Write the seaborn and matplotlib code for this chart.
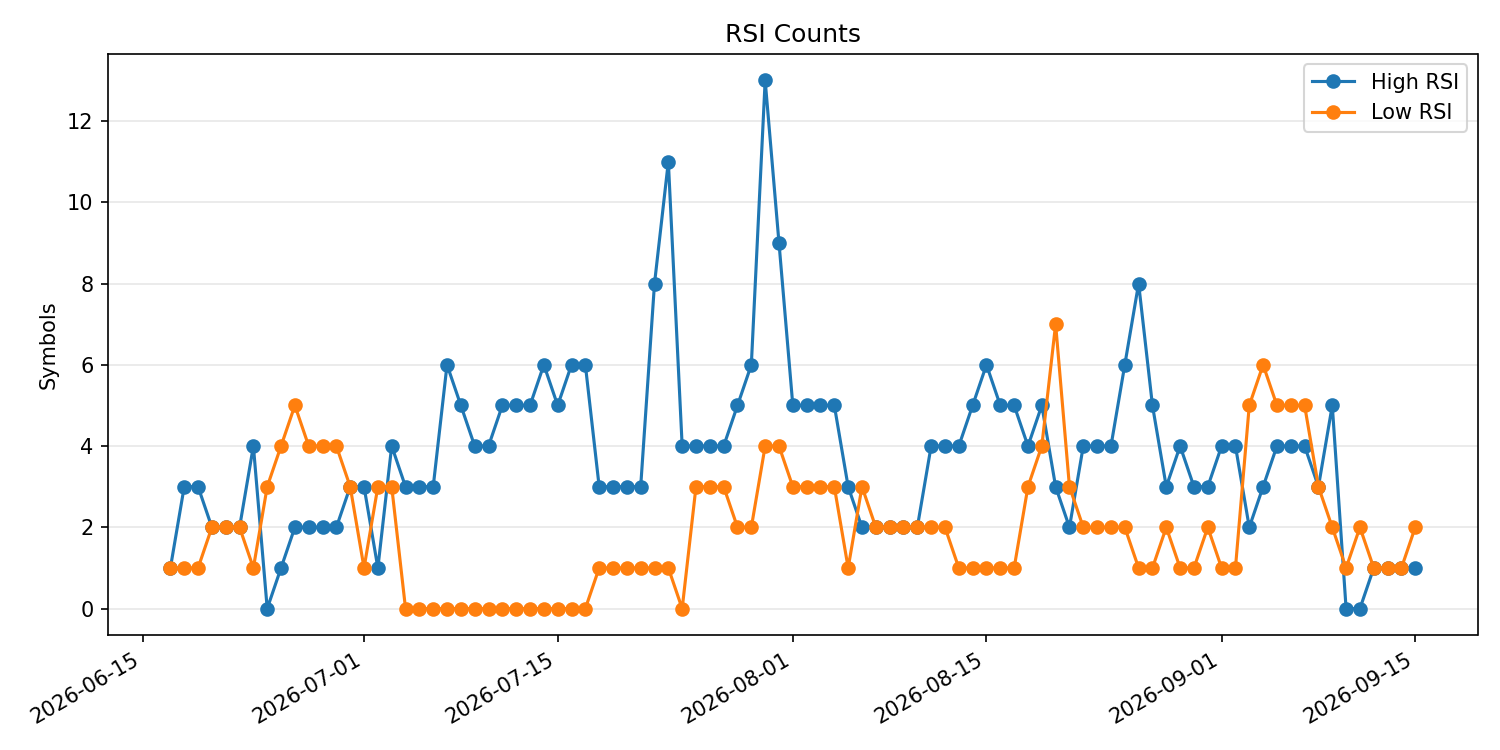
import pandas as pd
import matplotlib
matplotlib.use("Agg")
import matplotlib.pyplot as plt
import seaborn as sns

# daily counts, 2026-06-17 .. 2026-09-15
dates = pd.date_range("2026-06-17", "2026-09-15", freq="D")

high_rsi = [1, 3, 3, 2, 2, 2, 4, 0, 1, 2, 2, 2, 2, 3, 3, 1, 4, 3, 3, 3,
            6, 5, 4, 4, 5, 5, 5, 6, 5, 6, 6, 3, 3, 3, 3, 8, 11, 4, 4, 4,
            4, 5, 6, 13, 9, 5, 5, 5, 5, 3, 2, 2, 2, 2, 2, 4, 4, 4, 5, 6,
            5, 5, 4, 5, 3, 2, 4, 4, 4, 6, 8, 5, 3, 4, 3, 3, 4, 4, 2, 3,
            4, 4, 4, 3, 5, 0, 0, 1, 1, 1, 1]

low_rsi = [1, 1, 1, 2, 2, 2, 1, 3, 4, 5, 4, 4, 4, 3, 1, 3, 3, 0, 0, 0,
           0, 0, 0, 0, 0, 0, 0, 0, 0, 0, 0, 1, 1, 1, 1, 1, 1, 0, 3, 3,
           3, 2, 2, 4, 4, 3, 3, 3, 3, 1, 3, 2, 2, 2, 2, 2, 2, 1, 1, 1,
           1, 1, 3, 4, 7, 3, 2, 2, 2, 2, 1, 1, 2, 1, 1, 2, 1, 1, 5, 6,
           5, 5, 5, 3, 2, 1, 2, 1, 1, 1, 2]

df = pd.DataFrame({"date": dates, "high": high_rsi, "low": low_rsi})

fig, ax = plt.subplots(figsize=(10, 5), dpi=150)
sns.lineplot(data=df, x="date", y="high", marker="o", color="C0",
             markeredgecolor="C0", markeredgewidth=1, label="High RSI", ax=ax)
sns.lineplot(data=df, x="date", y="low", marker="o", color="C1",
             markeredgecolor="C1", markeredgewidth=1, label="Low RSI", ax=ax)

ax.set_title("RSI Counts")
ax.set_xlabel("")
ax.set_ylabel("Symbols")
ax.grid(axis="y", alpha=0.3)
ax.legend(loc="upper right")
fig.autofmt_xdate()
fig.tight_layout()
fig.savefig("out.png")
